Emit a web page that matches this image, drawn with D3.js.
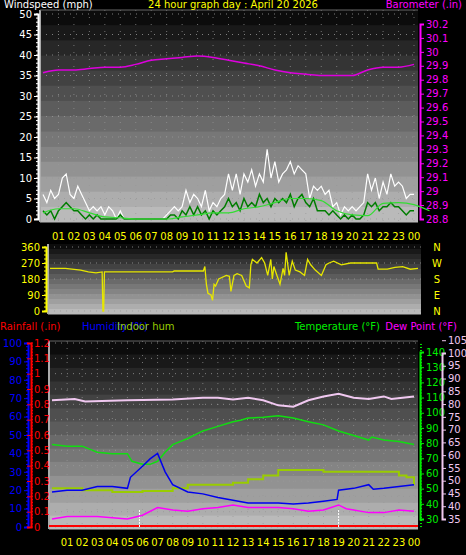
<!DOCTYPE html>
<html><head><meta charset="utf-8">
<script src="https://cdn.jsdelivr.net/npm/d3@7"></script>
<style>body{margin:0;background:#000}text{font-family:"DejaVu Sans",sans-serif;font-size:10px}</style>
</head><body><svg id="c" width="466" height="555"></svg>
<script>
const hours = ["01","02","03","04","05","06","07","08","09","10","11","12","13","14","15","16","17","18","19","20","21","22","23","00"];
// wind, every 15 min
const gust = [6,4,7,5, 6,10,11,6, 5,8,6,4, 2,3,2,3, 1,3,2,0, 2,0,0,0, 0,0,0,0, 0,0,0,0, 1,2,3,2, 3,7,4,6, 5,3,7,2, 4,3,5,6, 11,7,11,6, 11,9,12,8, 11,9,17,10, 14,9,11,12, 14,11,13,12, 11,5,8,7, 8,6,7,3, 4,1,3,2, 3,2,3,4, 11,7,10,5, 9,6,11,8, 9,8,5,6, 6];
const avg = [2,1,2,0, 2,3,4,3, 2,2,1,0, 1,0,1,0, 0,0,0,0, 1,0,0,0, 0,0,0,0, 0,0,0,0, 0,1,1,0, 2,1,3,1, 3,1,2,0, 2,1,2,3, 5,3,4,2, 5,3,4,3, 6,4,5,3, 5,4,5,4, 6,3,5,6, 4,3,5,2, 2,2,1,2, 1,0,1,0, 1,0,0,1, 4,3,4,2, 3,3,4,3, 3,2,1,2, 2];
const avgSmooth = [1.5,2.5,2.5,1.5,0.5,0.3,0,0,0,0.5,1,1.5,1.5,2.5,3,4,5,5,4.5,2,1,0.8,3.8,4,3.5,2];
const baro = [29.85,29.87,29.87,29.88,29.89,29.89,29.91,29.94,29.95,29.96,29.97,29.96,29.94,29.92,29.90,29.87,29.85,29.84,29.83,29.83,29.83,29.87,29.89,29.89,29.91];
const dirT = [0,1,2,2.5,3,3.4,3.45,3.5,3.55,4,8,8.1,10,10.1,10.2,10.3,10.5,10.6,10.7,10.8,11,11.5,11.7,11.8,12,12.2,12.5,12.8,13,13.1,13.2,13.5,13.8,14,14.2,14.4,14.5,14.6,14.8,15,15.2,15.3,15.4,15.6,15.8,16,16.3,16.6,16.8,17,17.3,17.7,18,18.2,18.5,19,19.6,20,21.3,21.4,22,22.5,23,23.5,24];
const dirV = [240,240,230,220,215,220,0,0,220,220,220,225,225,250,150,100,90,60,150,140,180,200,195,110,200,210,200,140,130,260,290,270,300,270,200,290,180,250,200,150,240,200,330,200,280,230,220,200,290,260,230,200,260,270,280,260,270,270,270,235,235,245,250,235,240];
const tempT = [0,1,2,3,4,5,5.3,6,6.5,7,7.5,8,9,10,11,12,12.5,13,14,15,16,17,18,19,20,21,21.2,22,23,24];
const temp = [79,78,78,74,73,73,68,66,66,68,74,79,83,88,91,94,95,96.5,97,98,96.5,94,92,88,85,82,84,82,81,79];
const humT = [0,1,2,3,4,5,5.2,6,6.5,7,7.5,8,9,10,11,12,13,14,15,16,17,18,18.9,19,20,21,21.3,22,23,24];
const hum = [19,20,20,22,22,21,27,33,37,40,30,23,19,18,16,14.5,13,13,13,12.5,13,14,15,20,21,23,20.5,21,22,23];
const inT = [0,2,4,6,8,9,12,13,14,15,17,18,19,23,23.5,24];
const inHum = [21,20,19,19.5,21,23,24,26,28,31,31,30,30,28,27,23];
const dewT = [0,1,3,4,5,6,7,8,9,10,11,12,13,14,15,16,17,18,19,19.5,20,21,22,23,24];
const dew = [35,36,36,35.5,35,36.5,39.5,38.5,38,39,39.5,40.5,39.5,39.5,39.5,39,38,38.5,40.5,39,38.5,37.5,37.5,38.5,38];
const inTempT = [0,1.5,2.2,5,8,10,11,12,13,14,15,16,17,18,19,20,21,22,22.5,24];
const inTemp = [81.5,82,81,81.5,81.8,82.5,82.5,81.8,82.5,81.5,79.5,79,81.5,83,84,82.5,82,83,82,83];

const svg = d3.select("#c");

function panel(x0, x1, y0, y1, yticks, ys) {
  const n = 14, h = (y1 - y0) / n;
  for (let i = 0; i < n; i++) {
    const v = Math.round(12 + i * (186 - 12) / (n - 1));
    svg.append("rect").attr("x", x0).attr("y", y0 + i * h).attr("width", x1 - x0).attr("height", h + 0.5)
      .attr("fill", d3.rgb(v, v, v));
  }
  yticks.forEach(t => svg.append("line").attr("x1", x0).attr("x2", x1).attr("y1", ys(t)).attr("y2", ys(t))
    .attr("stroke", "#999").attr("stroke-dasharray", "1,5").attr("opacity", 0.8));
  svg.append("line").attr("x1", x0).attr("x2", x0).attr("y1", y0).attr("y2", y1).attr("stroke", "#aaa").attr("stroke-width", 2);
}
function hourGrid(xs, y0, y1) {
  d3.range(1, 25).forEach(h => svg.append("line").attr("x1", xs(h)).attr("x2", xs(h)).attr("y1", y0).attr("y2", y1)
    .attr("stroke", "#999").attr("stroke-dasharray", "1,6").attr("opacity", 0.7));
}
function hourLabels(xs, y) {
  svg.append("g").selectAll("text").data(hours).join("text").attr("x", (d, i) => xs(i + 1)).attr("y", y)
    .attr("text-anchor", "middle").attr("fill", "#ffff00").text(d => d);
}
function axis(gen, x, color, ticks, fmt) {
  const g = svg.append("g").attr("transform", `translate(${x},0)`)
    .call(gen.tickValues(ticks).tickFormat(fmt).tickSize(4).tickPadding(2));
  g.selectAll("path,line").attr("stroke", color);
  g.select("path").attr("stroke-width", 2);
  g.selectAll("text").attr("fill", color).style("font-size", "10px").style("font-family", "DejaVu Sans");
  return g;
}
function minorTicks(scale, x, color, vals, dir) {
  svg.append("g").selectAll("line").data(vals).join("line").attr("x1", x).attr("x2", x + dir * 2)
    .attr("y1", d => scale(d)).attr("y2", d => scale(d)).attr("stroke", color);
}
const trim = d => String(+d.toFixed(1));

// ---------- top panel ----------
const xT = d3.scaleLinear([0, 24], [43, 414]);
const yW = d3.scaleLinear([0, 50], [219, 14]);
const yB = d3.scaleLinear([28.8, 30.2], [219, 24]);
panel(40, 418, 10, 222, d3.range(0, 51, 5), yW);
hourGrid(xT, 10, 222);
svg.append("line").attr("x1", 40).attr("x2", 418).attr("y1", 10).attr("y2", 10).attr("stroke", "#666");
axis(d3.axisLeft(yW), 38, "#ffffff", d3.range(0, 51, 5), d => d);
minorTicks(yW, 38, "#fff", d3.range(0, 51, 1), -1);
axis(d3.axisRight(yB), 420, "#ff00ff", d3.range(28.8, 30.21, 0.1).map(v => +v.toFixed(1)), trim);
hourLabels(xT, 240);
const tq = i => i / 4;
const lineQ = d3.line().x((d, i) => xT(tq(i))).y(d => yW(d));
svg.append("path").datum(gust).attr("d", lineQ).attr("fill", "none").attr("stroke", "#ffffff").attr("stroke-width", 1.2);
svg.append("path").datum(avg).attr("d", lineQ).attr("fill", "none").attr("stroke", "#007d00").attr("stroke-width", 1.5);
svg.append("path").datum(avgSmooth).attr("d", d3.line().x((d, i) => xT(i)).y(d => yW(d)).curve(d3.curveMonotoneX))
  .attr("fill", "none").attr("stroke", "#33dd33").attr("stroke-width", 1.2);
svg.append("path").datum(baro).attr("d", d3.line().x((d, i) => xT(i)).y(d => yB(d)).curve(d3.curveMonotoneX))
  .attr("fill", "none").attr("stroke", "#dd00dd").attr("stroke-width", 1.5);
svg.append("text").attr("x", 4).attr("y", 8).attr("fill", "#fff").text("Windspeed (mph)");
svg.append("text").attr("x", 233).attr("y", 8).attr("text-anchor", "middle").attr("fill", "#ffff00").text("24 hour graph day : April 20 2026");
svg.append("text").attr("x", 462).attr("y", 8).attr("text-anchor", "end").attr("fill", "#ff00ff").text("Barometer (.in)");

// ---------- wind direction ----------
const xD = d3.scaleLinear([0, 24], [50, 418]);
const yD = d3.scaleLinear([0, 360], [311, 247]);
panel(48, 421, 244, 314, [0, 90, 180, 270, 360], yD);
axis(d3.axisLeft(yD), 46, "#ffff00", [0, 90, 180, 270, 360], d => d);
minorTicks(yD, 46, "#ffff00", d3.range(0, 361, 22.5), -1);
svg.append("path").datum(dirV).attr("d", d3.line().x((d, i) => xD(dirT[i])).y(d => yD(d)))
  .attr("fill", "none").attr("stroke", "#e6e600").attr("stroke-width", 1.3);
["N", "W", "S", "E", "N"].forEach((c, i) => svg.append("text").attr("x", 437).attr("y", yD(360 - i * 90) + 4)
  .attr("text-anchor", "middle").attr("fill", "#ffff00").text(c));

// ---------- bottom panel ----------
const xB = d3.scaleLinear([0, 24], [52, 414]);
const yH = d3.scaleLinear([0, 100], [527, 343]);
const yR = d3.scaleLinear([0, 1.2], [527, 343]);
const yT = d3.scaleLinear([30, 140], [519, 352]);
const yDp = d3.scaleLinear([35, 100], [519, 353]);
panel(49, 418, 341, 529, d3.range(0, 101, 100 / 12), yH);
hourGrid(xB, 341, 529);
svg.append("line").attr("x1", 49).attr("x2", 418).attr("y1", 341).attr("y2", 341).attr("stroke", "#666");
axis(d3.axisLeft(yH), 28, "#0000ff", d3.range(0, 101, 10), d => d);
minorTicks(yH, 28, "#0000ff", d3.range(0, 101, 2), -1);
axis(d3.axisLeft(yR), 31, "#ff0000", d3.range(0, 1.21, 0.1).map(v => +v.toFixed(1)), trim)
  .selectAll("text").attr("text-anchor", "start").attr("x", 3);
minorTicks(yR, 31, "#ff0000", d3.range(0, 1.21, 0.02), 1);
axis(d3.axisRight(yT), 420, "#00ee00", d3.range(30, 141, 10), d => d);
minorTicks(yT, 420, "#00ee00", d3.range(25, 146, 2), 1);
axis(d3.axisRight(yDp), 442, "#f0c8f0", d3.range(35, 106, 5), d => d);
svg.append("line").attr("x1", 49).attr("x2", 418).attr("y1", yR(0) - 1).attr("y2", yR(0) - 1).attr("stroke", "#ff0000").attr("stroke-width", 2);
[5.8, 19].forEach(h => svg.append("line").attr("x1", xB(h)).attr("x2", xB(h)).attr("y1", 510).attr("y2", 527).attr("stroke", "#fff").attr("stroke-dasharray", "2,1"));
const ln = (T, ys) => d3.line().x((d, i) => xB(T[i])).y(d => ys(d));
svg.append("path").datum(inTemp).attr("d", ln(inTempT, yDp)).attr("fill", "none").attr("stroke", "#f0c8f0").attr("stroke-width", 2);
svg.append("path").datum(inHum).attr("d", ln(inT, yH).curve(d3.curveStepAfter)).attr("fill", "none").attr("stroke", "#99cc00").attr("stroke-width", 2);
svg.append("path").datum(temp).attr("d", ln(tempT, yT)).attr("fill", "none").attr("stroke", "#11dd11").attr("stroke-width", 1.5);
svg.append("path").datum(hum).attr("d", ln(humT, yH)).attr("fill", "none").attr("stroke", "#0000ee").attr("stroke-width", 1.5);
svg.append("path").datum(dew).attr("d", ln(dewT, yDp)).attr("fill", "none").attr("stroke", "#ff00ff").attr("stroke-width", 1.5);
hourLabels(xB, 546);
svg.append("text").attr("x", 0).attr("y", 330).attr("fill", "#ff0000").text("Rainfall (.in)");
svg.append("text").attr("x", 82).attr("y", 330).attr("fill", "#0000ff").text("Humidity (%)");
svg.append("text").attr("x", 117).attr("y", 330).attr("fill", "#99cc00").text("Indoor hum");
svg.append("text").attr("x", 380).attr("y", 330).attr("text-anchor", "end").attr("fill", "#00ee00").text("Temperature (°F)");
svg.append("text").attr("x", 457).attr("y", 330).attr("text-anchor", "end").attr("fill", "#ff00ff").text("Dew Point (°F)");
</script></body></html>
